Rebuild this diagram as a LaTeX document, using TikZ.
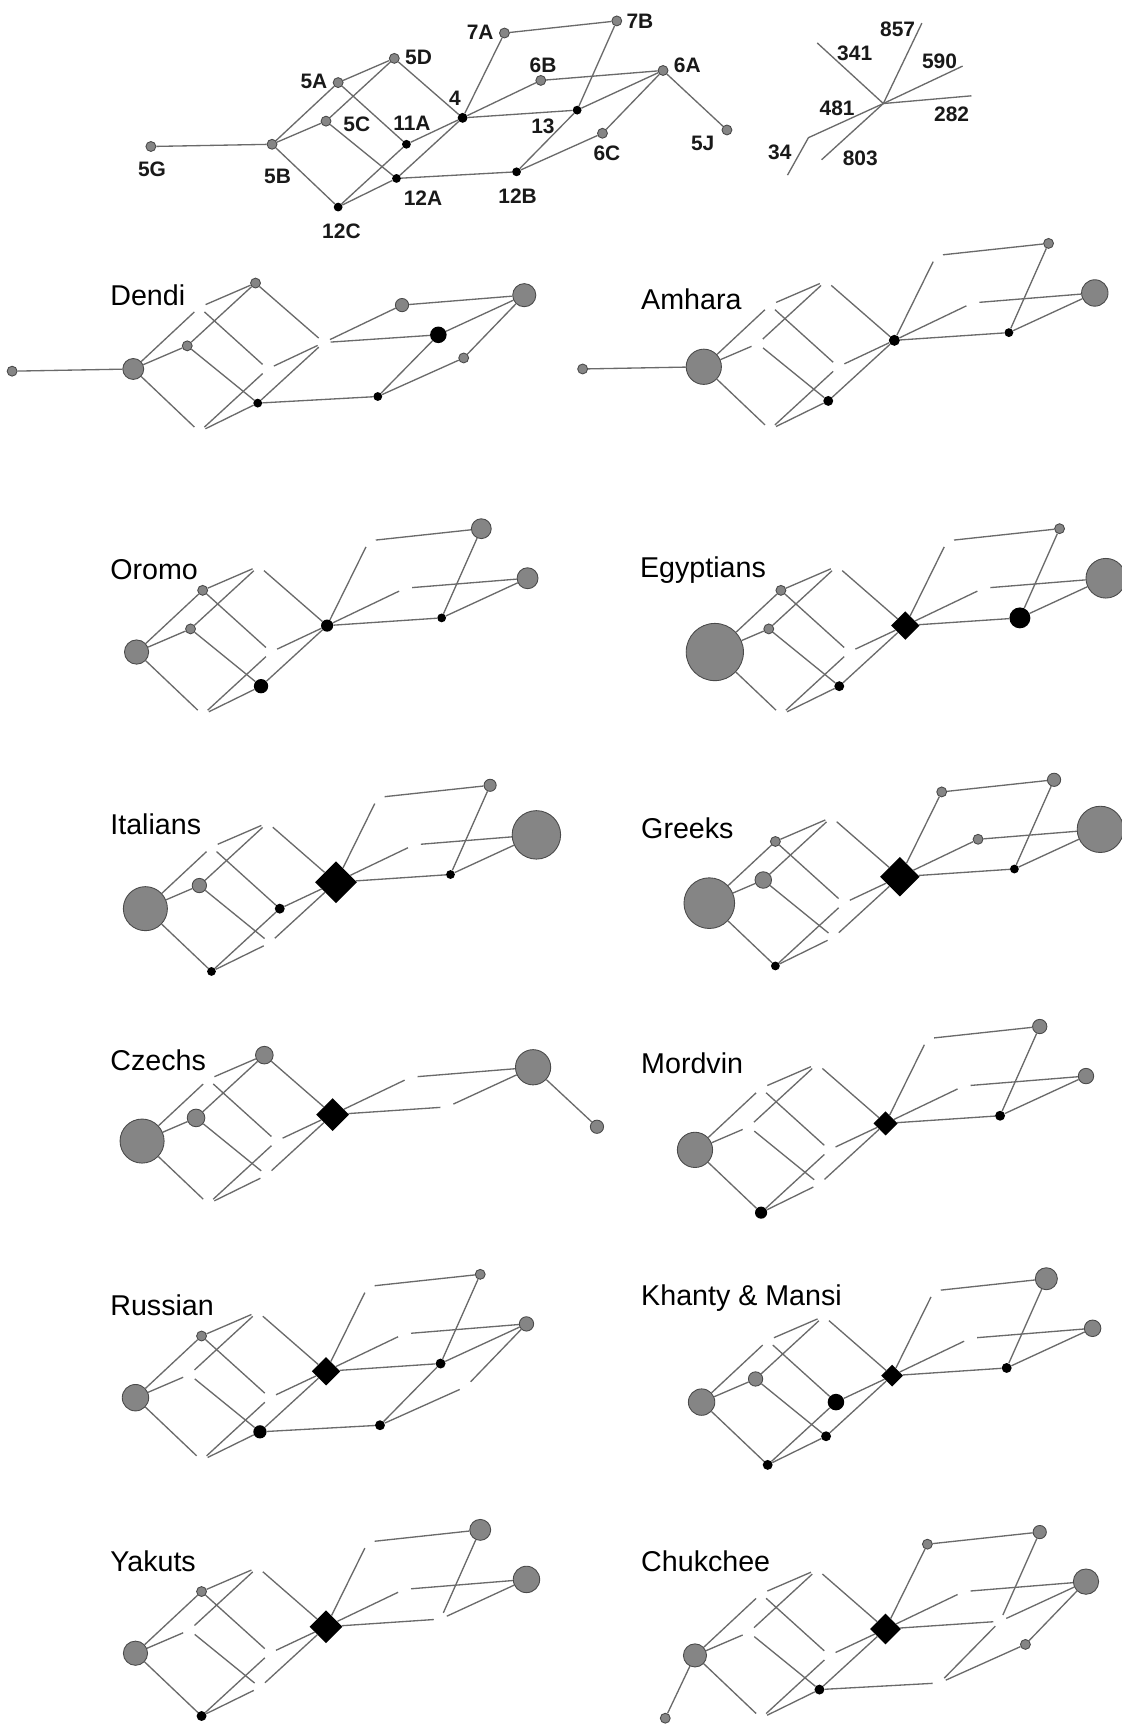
\documentclass[tikz,border=0pt]{standalone}
\usepackage{fontspec}
\setmainfont{Liberation Sans}
\usetikzlibrary{shapes.geometric}
\definecolor{lineg}{HTML}{6A6A6A}
\definecolor{fillg}{HTML}{858585}
\definecolor{rimg}{HTML}{4A4A4A}
\tikzset{
  edge/.style={draw=lineg, line width=1.2pt},
  gapn/.style={circle, inner sep=0pt, minimum size=12pt},
  gn/.style={circle, draw=rimg, line width=0.8pt, fill=fillg, inner sep=0pt, minimum size=#1},
  bn/.style={circle, fill=black, inner sep=0pt, minimum size=#1},
  dn/.style={diamond, shape aspect=1, fill=black, inner sep=0pt, minimum size=#1},
  gy/.style 2 args={s#1/.style={gn=#2pt}},
  bk/.style 2 args={s#1/.style={bn=#2pt}},
  dmd/.style 2 args={s#1/.style={dn=#2pt}},
  rmv/.style={s#1/.style={coordinate}, e#1/.style={draw=none}},
  plabel/.style={anchor=base west, font=\fontsize{26}{28}\selectfont, inner sep=0pt},
  tlabel/.style={font=\bfseries\fontsize{19}{21}\selectfont, inner sep=0pt, text=black!90},
  s5G/.style={gapn}, s5B/.style={gapn}, s5A/.style={gapn}, s5D/.style={gapn},
  s5C/.style={gapn}, s11A/.style={gapn}, s4/.style={gapn}, s12A/.style={gapn},
  s12C/.style={gapn}, s12B/.style={gapn}, s13/.style={gapn}, s6B/.style={gapn},
  s6A/.style={gapn}, s6C/.style={gapn}, s5J/.style={gapn}, s7A/.style={gapn},
  s7B/.style={gapn},
  e5G/.style={}, e5B/.style={}, e5A/.style={}, e5D/.style={},
  e5C/.style={}, e11A/.style={}, e4/.style={}, e12A/.style={},
  e12C/.style={}, e12B/.style={}, e13/.style={}, e6B/.style={},
  e6A/.style={}, e6C/.style={}, e5J/.style={}, e7A/.style={},
  e7B/.style={}
}
\newcommand\netlink[3]{\draw[edge,e#2,e#3] (#1-#2) -- (#1-#3);}
\newcommand\drawnet[4]{%
 \begin{scope}[shift={(#2,#3)},#4]
  \node[s5G] (#1-5G) at (137,133) {};
  \node[s5B] (#1-5B) at (247,131) {};
  \node[s5A] (#1-5A) at (307,75) {};
  \node[s5D] (#1-5D) at (358,53) {};
  \node[s5C] (#1-5C) at (296,110) {};
  \node[s11A] (#1-11A) at (369,131) {};
  \node[s4] (#1-4) at (420,107) {};
  \node[s12A] (#1-12A) at (360,162) {};
  \node[s12C] (#1-12C) at (307,188) {};
  \node[s12B] (#1-12B) at (469,156) {};
  \node[s13] (#1-13) at (524,100) {};
  \node[s6B] (#1-6B) at (491,73) {};
  \node[s6A] (#1-6A) at (602,64) {};
  \node[s6C] (#1-6C) at (547,121) {};
  \node[s5J] (#1-5J) at (660,118) {};
  \node[s7A] (#1-7A) at (458,30) {};
  \node[s7B] (#1-7B) at (560,19) {};
  \netlink{#1}{5G}{5B}
  \netlink{#1}{5B}{5A}
  \netlink{#1}{5B}{5C}
  \netlink{#1}{5B}{12C}
  \netlink{#1}{5A}{5D}
  \netlink{#1}{5C}{5D}
  \netlink{#1}{5A}{11A}
  \netlink{#1}{5D}{4}
  \netlink{#1}{5C}{12A}
  \netlink{#1}{12C}{11A}
  \netlink{#1}{12C}{12A}
  \netlink{#1}{11A}{4}
  \netlink{#1}{12A}{4}
  \netlink{#1}{4}{7A}
  \netlink{#1}{7A}{7B}
  \netlink{#1}{7B}{13}
  \netlink{#1}{4}{6B}
  \netlink{#1}{6B}{6A}
  \netlink{#1}{4}{13}
  \netlink{#1}{13}{6A}
  \netlink{#1}{6A}{6C}
  \netlink{#1}{6C}{12B}
  \netlink{#1}{13}{12B}
  \netlink{#1}{12A}{12B}
  \netlink{#1}{6A}{5J}
 \end{scope}}
\begin{document}
\begin{tikzpicture}[x=1pt,y=-1pt]
\useasboundingbox[fill=white] (0,0) rectangle (1018,1568);

% ---------- top reference network ----------
\drawnet{T}{0}{0}{gy={5G}{9}, gy={5B}{9}, gy={5A}{9}, gy={5D}{9}, gy={5C}{9},
  bk={11A}{8}, bk={4}{9}, bk={12A}{8}, bk={12C}{8}, bk={12B}{8}, bk={13}{8},
  gy={6B}{9}, gy={6A}{9}, gy={6C}{9}, gy={5J}{9}, gy={7A}{9}, gy={7B}{9}}
\node[tlabel] (l5G) at (138,154) {5G};
\node[tlabel] (l5B) at (252,160) {5B};
\node[tlabel] (l5A) at (285,74) {5A};
\node[tlabel] (l5D) at (380,52) {5D};
\node[tlabel] (l5C) at (324,113) {5C};
\node[tlabel] (l11A) at (374,112) {11A};
\node[tlabel] (l4) at (413,89) {4};
\node[tlabel] (l12A) at (384,180) {12A};
\node[tlabel] (l12C) at (310,210) {12C};
\node[tlabel] (l12B) at (470,178) {12B};
\node[tlabel] (l13) at (493,115) {13};
\node[tlabel] (l6B) at (493,59) {6B};
\node[tlabel] (l6A) at (624,59) {6A};
\node[tlabel] (l6C) at (551,139) {6C};
\node[tlabel] (l5J) at (638,130) {5J};
\node[tlabel] (l7A) at (436,29) {7A};
\node[tlabel] (l7B) at (581,19) {7B};

% ---------- star ----------
\coordinate (sc) at (802,94);
\coordinate (s857) at (837,21);
\coordinate (s341) at (742,39);
\coordinate (s590) at (874,60);
\coordinate (s282) at (882,87);
\coordinate (s803) at (746,145);
\coordinate (s481) at (734,125);
\coordinate (s34) at (715,159);
\draw[edge] (sc) -- (s857);
\draw[edge] (sc) -- (s341);
\draw[edge] (sc) -- (s590);
\draw[edge] (sc) -- (s282);
\draw[edge] (sc) -- (s803);
\draw[edge] (sc) -- (s481) -- (s34);
\node[tlabel] (t857) at (815,27) {857};
\node[tlabel] (t341) at (776,48) {341};
\node[tlabel] (t590) at (853,56) {590};
\node[tlabel] (t282) at (864,104) {282};
\node[tlabel] (t803) at (781,144) {803};
\node[tlabel] (t481) at (760,98) {481};
\node[tlabel] (t34) at (708,138) {34};

% ---------- panels ----------
\drawnet{D}{-126}{204}{gy={5G}{9}, gy={5B}{19}, gy={5C}{9}, gy={5D}{9},
  bk={12A}{8}, bk={12B}{8}, bk={13}{15}, gy={6B}{12}, gy={6A}{21}, gy={6C}{9},
  rmv=7A, rmv=7B, rmv=5J}
\node[plabel] (nD) at (100,277) {Dendi};

\drawnet{A}{392}{202}{gy={5G}{9}, gy={5B}{32}, bk={4}{10}, bk={12A}{9}, bk={13}{8},
  gy={6A}{24}, gy={7B}{9}, rmv=12B, rmv=6C, rmv=5J}
\node[plabel] (nA) at (582,281) {Amhara};

\drawnet{O}{-123}{461}{rmv=5G, gy={5B}{22}, gy={5A}{9}, gy={5C}{9}, bk={4}{11},
  bk={12A}{13}, bk={13}{8}, gy={6A}{19}, gy={7B}{18}, rmv=12B, rmv=6C, rmv=5J}
\node[plabel] (nO) at (100,526) {Oromo};

\drawnet{E}{402}{461}{rmv=5G, gy={5B}{52}, gy={5A}{9}, gy={5C}{9}, dmd={4}{26},
  bk={12A}{9}, bk={13}{19}, gy={6A}{36}, gy={7B}{9}, rmv=12B, rmv=6C, rmv=5J}
\node[plabel] (nE) at (581,524) {Egyptians};

\drawnet{I}{-115}{694}{rmv=5G, gy={5B}{40}, gy={5C}{13}, bk={11A}{9}, dmd={4}{38},
  bk={12C}{8}, bk={13}{8}, gy={6A}{44}, gy={7B}{11}, rmv=12B, rmv=6C, rmv=5J}
\node[plabel] (nI) at (100,758) {Italians};

\drawnet{G}{397}{689}{rmv=5G, gy={5B}{46}, gy={5A}{9}, gy={5C}{15}, dmd={4}{36},
  bk={12C}{8}, bk={13}{8}, gy={6B}{9}, gy={6A}{42}, gy={7A}{9}, gy={7B}{12},
  rmv=12B, rmv=6C, rmv=5J}
\node[plabel] (nG) at (582,761) {Greeks};

\drawnet{C}{-118}{905}{rmv=5G, gy={5B}{40}, gy={5C}{16}, gy={5D}{16}, dmd={4}{30},
  gy={6A}{32}, gy={5J}{12}, rmv=12B, rmv=6C, rmv=7A, rmv=7B}
\node[plabel] (nC) at (100,972) {Czechs};

\drawnet{M}{384}{913}{rmv=5G, gy={5B}{32}, dmd={4}{22}, bk={12C}{11}, bk={13}{9},
  gy={6A}{14}, gy={7B}{13}, rmv=12B, rmv=6C, rmv=5J}
\node[plabel] (nM) at (582,975) {Mordvin};

\drawnet{R}{-124}{1138}{rmv=5G, gy={5B}{24}, gy={5A}{9}, dmd={4}{26}, bk={12A}{12},
  bk={12B}{9}, bk={13}{9}, gy={6A}{13}, gy={7B}{9}, rmv=5J}
\node[plabel] (nR) at (100,1194) {Russian};

\drawnet{K}{390}{1142}{rmv=5G, gy={5B}{24}, gy={5C}{13}, bk={11A}{15}, dmd={4}{20},
  bk={12A}{9}, bk={12C}{9}, bk={13}{9}, gy={6A}{15}, gy={7B}{20},
  rmv=12B, rmv=6C, rmv=5J}
\node[plabel] (nK) at (582,1185) {Khanty \& Mansi};

\drawnet{Y}{-124}{1370}{rmv=5G, gy={5B}{22}, gy={5A}{9}, dmd={4}{30}, bk={12C}{9},
  gy={6A}{24}, gy={7B}{19}, rmv=12B, rmv=6C, rmv=5J}
\node[plabel] (nY) at (100,1427) {Yakuts};

\drawnet{U}{384}{1372}{rmv=5G, gy={5B}{21}, dmd={4}{28}, bk={12A}{9}, gy={6A}{23},
  gy={6C}{9}, gy={7A}{9}, gy={7B}{12}, rmv=5J}
\node[gn=9pt] (U-x) at (604,1560) {};
\draw[edge] (U-5B) -- (U-x);
\node[plabel] (nU) at (582,1427) {Chukchee};
\end{tikzpicture}
\end{document}
